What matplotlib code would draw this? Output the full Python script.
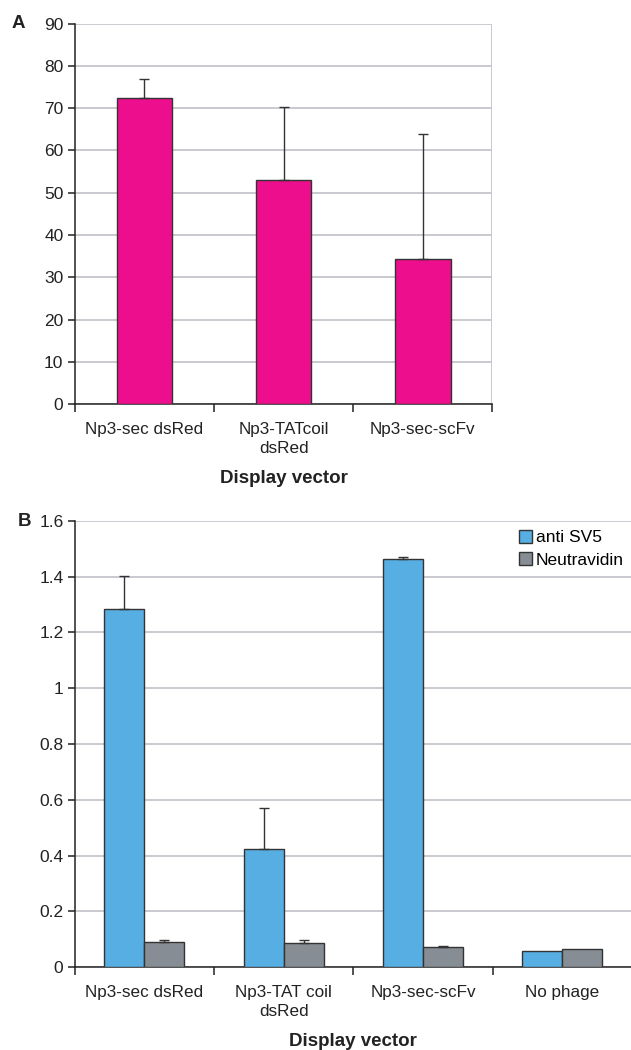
import matplotlib
matplotlib.use("Agg")
import matplotlib.pyplot as plt
import numpy as np
from matplotlib.patches import Patch

plt.rcParams['font.family'] = ['Liberation Sans', 'DejaVu Sans']

# Panel A data
cats_a = ["Np3-sec dsRed", "Np3-TATcoil\ndsRed", "Np3-sec-scFv"]
vals_a = [72.3, 53.0, 34.3]
err_a = [4.7, 17.2, 29.6]
yticks_a = [0, 10, 20, 30, 40, 50, 60, 70, 80, 90]

# Panel B data
cats_b = ["Np3-sec dsRed", "Np3-TAT coil\ndsRed", "Np3-sec-scFv", "No phage"]
sv5_vals = [1.285, 0.423, 1.464, 0.058]
sv5_err = [0.118, 0.149, 0.005, 0.0]
neu_vals = [0.092, 0.088, 0.072, 0.067]
neu_err = [0.005, 0.009, 0.005, 0.0]
yticks_b = [0, 0.2, 0.4, 0.6, 0.8, 1.0, 1.2, 1.4, 1.6]
yticklabels_b = ["0", "0.2", "0.4", "0.6", "0.8", "1", "1.2", "1.4", "1.6"]
series_b = ["anti SV5", "Neutravidin"]

PINK = "#EC0E8C"
BLUE = "#56AEE2"
GRAY = "#878D94"
EDGE = "#333333"
GRID = "#C9CACF"
TXT = "#222222"

fig = plt.figure(figsize=(6.31, 10.5), dpi=100)

def style_axes(ax, n, ylim, yticks, ylabels=None):
    ax.set_xlim(-0.5, n - 0.5)
    ax.set_ylim(*ylim)
    ax.set_yticks(yticks)
    if ylabels is not None:
        ax.set_yticklabels(ylabels)
    ax.yaxis.grid(True, color=GRID, linewidth=1.4, zorder=0)
    ax.set_axisbelow(True)
    for s in ["top", "right"]:
        ax.spines[s].set_visible(False)
    ax.spines["left"].set_color(TXT)
    ax.spines["bottom"].set_color(TXT)
    ax.spines["left"].set_linewidth(1.1)
    ax.spines["bottom"].set_linewidth(1.1)
    ax.set_xticks(np.arange(n))
    ax.set_xticks(np.arange(n + 1) - 0.5, minor=True)
    ax.tick_params(axis="x", which="major", length=0, pad=12.5, labelsize=12.3, colors=TXT)
    ax.tick_params(axis="x", which="minor", length=6, width=1.1, color=TXT)
    ax.tick_params(axis="y", length=4.7, width=1.1, color=TXT, labelsize=12.5, labelcolor=TXT, pad=3.5)

# Panel A
axA = fig.add_axes([0.1185, 0.6150, 0.662, 0.3625])
xa = np.arange(len(cats_a))
axA.bar(xa, vals_a, width=0.40, color=PINK, edgecolor=EDGE, linewidth=1.0, zorder=3)
axA.errorbar(xa, vals_a, yerr=[np.zeros(len(err_a)), err_a], fmt="none",
             ecolor=EDGE, elinewidth=1.0, capsize=3.6, capthick=1.0, zorder=4)
style_axes(axA, len(cats_a), (0, 90), yticks_a)
axA.set_xticklabels(cats_a, linespacing=1.35)
axA.axvline(len(cats_a) - 0.5, color=GRID, linewidth=1.4, zorder=0)
axA.set_xlabel("Display vector", fontsize=13.5, fontweight="bold", labelpad=10.5, color=TXT)
fig.text(0.0185, 0.978, "A", fontsize=13.5, fontweight="bold", va="center", ha="left", color=TXT)

# Panel B
axB = fig.add_axes([0.1185, 0.0788, 0.883, 0.4253])
xb = np.arange(len(cats_b))
w = 0.287
axB.bar(xb - w / 2, sv5_vals, width=w, color=BLUE, edgecolor=EDGE, linewidth=1.0, zorder=3, label=series_b[0])
axB.bar(xb + w / 2, neu_vals, width=w, color=GRAY, edgecolor=EDGE, linewidth=1.0, zorder=3, label=series_b[1])
mask = np.array(sv5_err) > 0
axB.errorbar((xb - w / 2)[mask], np.array(sv5_vals)[mask],
             yerr=[np.zeros(mask.sum()), np.array(sv5_err)[mask]], fmt="none",
             ecolor=EDGE, elinewidth=1.0, capsize=3.6, capthick=1.0, zorder=4)
mask2 = np.array(neu_err) > 0
axB.errorbar((xb + w / 2)[mask2], np.array(neu_vals)[mask2],
             yerr=[np.zeros(mask2.sum()), np.array(neu_err)[mask2]], fmt="none",
             ecolor=EDGE, elinewidth=1.0, capsize=3.6, capthick=1.0, zorder=4)
style_axes(axB, len(cats_b), (0, 1.6), yticks_b, yticklabels_b)
axB.set_xticklabels(cats_b, linespacing=1.35)
axB.set_xlabel("Display vector", fontsize=13.5, fontweight="bold", labelpad=10.5, color=TXT)
handles = [Patch(facecolor=BLUE, edgecolor=EDGE, label=series_b[0]),
           Patch(facecolor=GRAY, edgecolor=EDGE, label=series_b[1])]
leg = axB.legend(handles=handles, loc="upper right", bbox_to_anchor=(0.99, 0.985),
                 frameon=True, fontsize=12.5, handlelength=0.75, handleheight=0.75,
                 handletextpad=0.2, labelspacing=0.4, borderpad=0.15, borderaxespad=0.0)
leg.get_frame().set_facecolor("white")
leg.get_frame().set_edgecolor("white")
leg.get_frame().set_alpha(1.0)
fig.text(0.028, 0.5035, "B", fontsize=13.5, fontweight="bold", va="center", ha="left", color=TXT)

fig.savefig("out.png", dpi=100, facecolor="white")
